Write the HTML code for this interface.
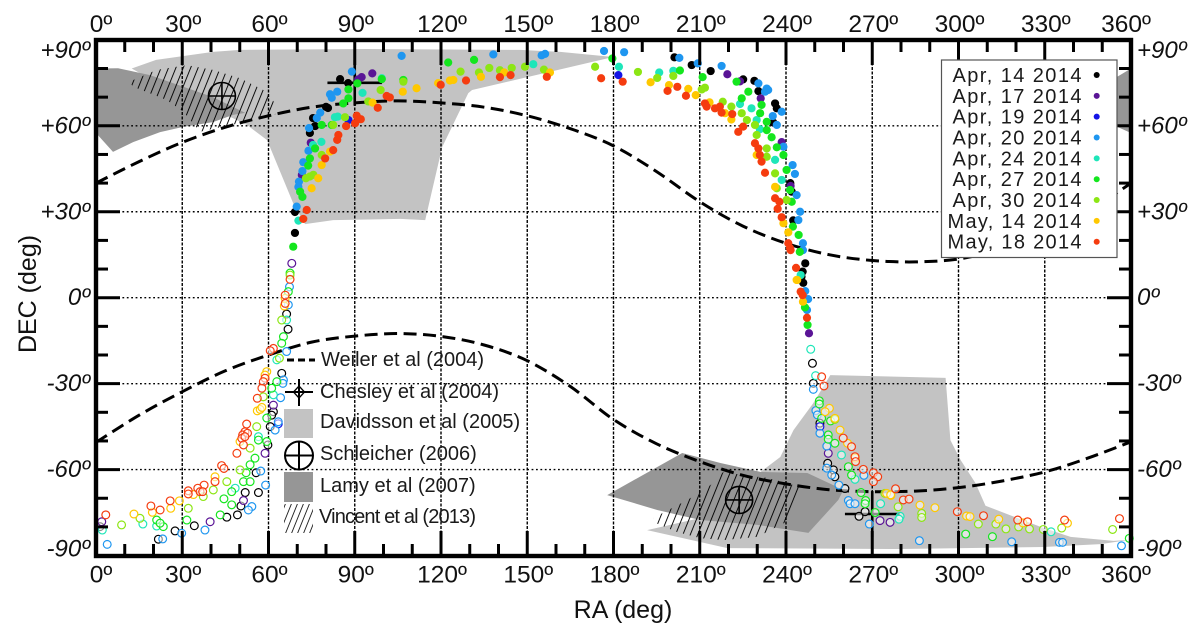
<!DOCTYPE html>
<html lang="en">
<head>
<meta charset="utf-8">
<title>Comet pole solutions RA/DEC chart</title>
<style>
html,body{margin:0;padding:0;background:#fff;}
svg{display:block;font-family:"Liberation Sans",sans-serif;}
</style>
</head>
<body>
<svg id="chart" xmlns="http://www.w3.org/2000/svg" width="1200" height="633" viewBox="0 0 1200 633">
<defs>
<pattern id="hatch" patternUnits="userSpaceOnUse" width="7.4" height="10" patternTransform="skewX(-22)">
<line x1="3.5" y1="0" x2="3.5" y2="10" stroke="#000" stroke-width="1"/>
</pattern>
<pattern id="hatch-legend" patternUnits="userSpaceOnUse" width="6" height="10" patternTransform="skewX(-22)">
<line x1="3" y1="0" x2="3" y2="10" stroke="#222" stroke-width="1"/>
</pattern>
</defs>
<g id="regions"></g>
<g id="grid"></g>
<g id="curves"></g>
<g id="crosses"></g>
<g id="legend-left">
<line x1="287" y1="360" x2="315" y2="360" stroke="#000" stroke-width="3" stroke-dasharray="7 4"/>
<text x="321" y="366" font-size="20" fill="#1a1a1a">Weiler et al (2004)</text>
<line x1="285" y1="392" x2="313" y2="392" stroke="#000" stroke-width="2"/>
<line x1="299" y1="379" x2="299" y2="406" stroke="#000" stroke-width="2"/>
<path d="M299 386 L304.5 392 L299 398 L293.5 392 Z" fill="none" stroke="#000" stroke-width="1.3"/>
<text x="320" y="398" font-size="20" fill="#1a1a1a">Chesley et al (2004)</text>
<rect x="284" y="409" width="29" height="29" fill="#c3c3c3"/>
<text x="320" y="428" font-size="20" fill="#1a1a1a">Davidsson et al (2005)</text>
<circle cx="299" cy="455.5" r="14" fill="none" stroke="#000" stroke-width="2"/>
<line x1="285" y1="455.5" x2="313" y2="455.5" stroke="#000" stroke-width="2"/>
<line x1="299" y1="441.5" x2="299" y2="469.5" stroke="#000" stroke-width="2"/>
<text x="320" y="460" font-size="20" fill="#1a1a1a">Schleicher (2006)</text>
<rect x="284" y="472" width="29" height="30" fill="#969696"/>
<text x="320" y="492" font-size="20" fill="#1a1a1a">Lamy et al (2007)</text>
<rect x="284" y="504" width="29" height="29" fill="url(#hatch-legend)"/>
<text x="319" y="523" font-size="20" fill="#1a1a1a" textLength="157" lengthAdjust="spacing">Vincent et al (2013)</text>
</g>
<g id="points"></g>
<g id="axes"></g>
<g id="date-legend"></g>
<text x="623" y="618" font-size="25" text-anchor="middle" fill="#111">RA (deg)</text>
<text transform="translate(36,294) rotate(-90)" font-size="25" text-anchor="middle" fill="#111">DEC (deg)</text>
</svg>
<script>
const raTicks = [0,30,60,90,120,150,180,210,240,270,300,330,360];
const decTicks = [90,60,30,0,-30,-60,-90];
const raLabels = ["0º","30º","60º","90º","120º","150º","180º","210º","240º","270º","300º","330º","360º"];
const decLabels = ["+90º","+60º","+30º","0º","-30º","-60º","-90º"];

const seriesNames = ["Apr, 14 2014","Apr, 17 2014","Apr, 19 2014","Apr, 20 2014","Apr, 24 2014","Apr, 27 2014","Apr, 30 2014","May, 14 2014","May, 18 2014"];
const seriesColors = ["#000000","#5a1496","#1414e6","#1e96f0","#1ee6b9","#14e61e","#8ce614","#ffc800","#f53c0f"];

const apr14 = [[84.9,76.3],[87.7,74.9],[80,66.6],[80.7,66.2],[75.5,62.7],[76.2,59.9],[74.4,57.5],[69.2,29.9],[69.2,22.6],
[201.2,83.9],[207.2,81.2],[213.8,79.1],[225.1,76.2],[229,75.7],[230.4,72.1],[236.2,67.8],[236.8,66.1],[235.6,61.1],[241.5,40],[242,37],[242.5,27],[245.8,9.1],[245.4,7.3],[246,5.2],[246.7,12],
[249.2,-22.9],[249.5,-29.9],[251.8,-43.8],[254.5,-57.8],[256.5,-60.1],[257,-62.5],[260.5,-66.6],[267.5,-74.7],[265.4,-76.3],
[66.3,-5.7],[66.8,-11],[64.6,-26.4],[61.7,-39.8],[60.6,-45],[61.1,-41],[59.8,-51.4],[55.7,-61.1],[56.5,-68],[51.9,-68],[50.4,-72.7],[49.2,-75.8],[45.5,-76.6],[34.2,-79.6],[27.5,-81.4],[21.7,-84.3],[1.4,-79.9]];
const apr17 = [[96.1,78.3],[92.4,77],[91.2,76.2],[74.7,54.1],[71.6,42.8],
[219.6,78],[224,75.5],[231.2,69.6],[238.5,54.3],[241.6,39],[248,-12.4],[68.1,12],
[254.7,-54.3],[272.7,-77.8],[276.2,-78.4],[61.7,-37.5],[58.8,-54.3],[51.3,-70.8],[39.7,-78.2],[2,-78.2]];
const apr19 = [[87.8,62],[181.7,77.7],[63.4,-44],[251.8,-45]];
const apr20 = [[89,78.9],[81.4,71],[82,69.8],[83.9,71.9],[78,64.6],[76.8,62.7],[74.1,59.2],[73.9,51.3],[72.1,47.3],[71.8,44.2],[70.6,40.5],[70.4,38.7],[69.8,31.8],
[106.3,84.4],[138.2,84.9],[155,84.6],[156.2,85.1],[176.7,86.1],[183.7,85.7],[202.9,83.7],[209.3,81.8],[217.6,80.9],
[230.4,74.8],[233.3,73],[233.8,72.5],[232.7,71.9],[238.5,64.9],[235.4,63.4],[236.8,60.3],[239.1,52.7],[242.3,46.3],[243.1,43.2],[243.7,35.8],[244.9,30],[244.3,27.1],[245.9,19],[245.9,16.6],[246.7,2.3],[247.7,-0.5],[247.3,-4.3],
[249.5,-32],[250.4,-39.4],[250.9,-40.9],[251.8,-47.3],[254.2,-51.8],[254.2,-59.5],[255.9,-61.9],[258.4,-65.4],[261.7,-70.8],[262.3,-71.9],[264,-71.9],[269,-79],[267.1,-62],
[286.4,-84.8],[318.5,-85.2],[335.1,-85.4],[336.2,-85.4],[356.7,-86.6],
[66.9,-2.5],[66.3,-18.8],[65.2,-28.7],[65,-29.9],[64.2,-34.9],[63.4,-43.3],[62.3,-46.2],[59,-65.4],[57.3,-60.5],[54.2,-72.9],[53,-74.1],[37.9,-81.1],[29.8,-82.2],[3.9,-86.1],[23.2,-84.2],[67.3,3.8]];
const apr24 = [[92.7,71.5],[84.1,63.2],[83.1,63],[78.4,54.4],[75.5,53.3],[70.4,26.9],[99.4,76.6],
[152.1,81.5],[181.9,80.6],[195.9,78.6],[200.8,79.2],[224,67.6],[228,66.1],[229.8,62],[230.9,58.8],[236.2,48.1],[238.5,41.1],[245.1,7.9],
[248.6,-18],[250.3,-27.2],[259.3,-54.9],[264,-63.4],[272.9,-71.9],[279.7,-76.3],[279.3,-77.3],[332.2,-81.7],
[66.3,-7.8],[62.9,-21.7],[61.7,-33.9],[56.5,-48.5],[48.4,-66.5],[16.3,-79],[21.1,-79.7],[2.2,-81.1]];
const apr27 = [[90.9,74.8],[87.8,72.7],[87.8,69.6],[86,67.8],[78.5,60.3],[82,60.3],[76.2,52.1],[74.4,48.6],[73.8,46.1],[71,37],[71.8,35.2],[99.4,76.3],[68.6,17.8],
[122.5,82.1],[131.5,83],[179.6,83.5],[203.1,79.3],[211,77],[222.8,75.4],[226.9,71.9],[224.6,69.6],[231.5,67.3],[231,64.4],[233.3,61.4],[233.3,58.5],[235,56],[236.8,52.5],[239.1,49.8],[240.2,44.6],[241.4,37.6],[242,33.5],[242.4,24.8],[106.9,76],[244.8,16],[244.4,21.9],[247.5,-9.5],[246.6,-3.4],
[251.6,-36],[251.6,-37.1],[252.4,-42.1],[255.5,-43],[254.7,-47.9],[254.7,-49.4],[257,-50.8],[261.7,-59],[262.8,-61.9],[266.1,-68],[267.7,-70.8],[267.5,-71.9],[271,-75],
[302.5,-82.5],[311.8,-83.4],[359.4,-84],
[67.5,8.6],[66.9,2.1],[65.2,-13.6],[64.6,-15.9],[62.9,-29.3],[61.1,-31.6],[59.4,-42],[56.5,-49.7],[59.4,-50.2],[55.3,-56],[53.6,-58.3],[52.2,-61.1],[51.3,-64.2],[53.6,-64.2],[47.2,-67.7],[44.5,-70.2],[47.2,-72.3],[43.2,-75.8],[31.6,-77.6],[23.4,-79.9],[21.1,-77.6],[22.3,-78.7]];
const apr30 = [[99,72.5],[94.7,68.5],[86.6,63],[75.6,42.9],[73,41.7],[74.4,42.3],[78.5,49.8],[82.5,60.3],
[106.9,75.4],[126.8,78.9],[133.2,78.6],[136.8,80.2],[140.5,79.4],[144.6,80.2],[149.2,80.6],[155.8,79.6],[173.6,80.6],[188.5,78.8],[195.2,76.7],[200.8,77.4],[210.7,72.7],[211.8,73.3],[218,68.4],[221,66.7],[224.6,64.4],[226.4,62],[229.2,60.3],[229.8,56.8],[233.3,52.1],[233.3,49.2],[236.2,43.4],[236.8,38.2],[240.2,34.1],
[257,-42.5],[274.4,-68.3],[279,-73],[287.2,-75.3],[287.2,-76.7],[306.9,-79],[313,-79],[316.5,-80.7],[320.9,-80],[324.7,-80.7],[329.5,-80.9],[335.9,-80.4],[353.6,-80.9],
[67.5,7.9],[64.6,-7.8],[63.8,-21.1],[58.2,-34.6],[55.9,-45],[53.6,-52.5],[50.1,-60.1],[45.5,-64.2],[40.8,-67.1],[37.3,-69.4],[32.1,-73.5],[15.3,-77],[8.9,-79.3]];
const may14 = [[96.2,68.1],[81.4,51],[78.5,46.3],[77.3,41.7],[75,38.2],
[106.7,71.9],[111.5,73.1],[123.1,75.8],[124.3,76],[119,74.9],[133.9,77.1],[142,78.6],[157.9,78.6],[192.9,75.2],[199.3,74.2],[206,72.9],[208.6,70.7],[213.4,68.2],[218.8,64.4],[221,62.2],[229.8,49.8],[236.2,38.7],[239.1,26],[240.8,22.8],[243.7,6.2],[243.9,6.2],[245.9,-1.4],
[255.1,-38.6],[253.6,-39.8],[257,-42.1],[258.8,-46.2],[261.4,-50.8],[264.1,-56],[276.5,-69],[275,-68.3],[276.4,-68.8],[286.6,-72.4],[291.8,-73.3],[302.8,-76.2],[304,-76.4],[314,-77.3],[322.4,-78.6],[337.9,-78.7],
[65.8,-0.2],[65.5,-2.9],[59.4,-25.8],[58.8,-27],[56.1,-39.5],[57.1,-39],[57.7,-38.3],[50.1,-50.2],[41.4,-62.5],[33.9,-68.7],[29,-70.9],[26,-73.5],[19.6,-74.9],[13.2,-75.5]];
const may18 = [[90.7,63.5],[92.1,62.3],[90.1,60.9],[87,59.9],[84.3,56.8],[83.9,55.1],[82.5,51.5],[79.7,48.6],[73.3,30.6],[72.1,27.5],[101.1,70.4],[102.2,69.9],[98,66.3],
[119.9,74.3],[128.7,75.8],[140.5,77],[144.2,77.7],[156.8,77.1],[175.7,76.6],[183.2,75.4],[198.8,72.2],[202.2,73.6],[205.2,70.5],[211.8,67.8],[212.4,66.7],[215.3,66.1],[217,66.7],[217.6,64.6],[221.3,64.1],[225.1,59.7],[223.4,57.9],[229.2,53.9],[230.4,52.1],[230.9,49.8],[231.5,47.5],[232.7,43.6],[236.2,34.7],[237.7,33.5],[237.1,31],[238.5,28.1],[240.8,19],[241.6,16.6],[243.5,10.4],[241.4,17.3],[245.1,2.1],[245.8,0.9],[247.3,-7],
[252.4,-27.6],[253.2,-30.8],[259.9,-49],[262.8,-52],[264,-55.5],[264.2,-57.2],[266.9,-59.9],[270.4,-61.1],[271.9,-62.5],[270.4,-64.2],[278.1,-66.7],[280.8,-70.6],[282.8,-70.3],[299.6,-74.7],[308.7,-76.1],[320.6,-77.6],[324,-78.2],[336.9,-77.6],[356,-77.1],
[67.5,6.4],[65.8,0.9],[65.8,-2],[61.7,-17.7],[60.6,-18.5],[58.8,-28.1],[58.2,-29.3],[57.7,-31.6],[56.1,-35.1],[52.4,-44.1],[51.8,-46.8],[51,-47.9],[52.7,-47.3],[50.7,-49.1],[51.8,-48.5],[51.3,-51.4],[49,-54.3],[43.7,-58.6],[44.5,-59.6],[41.4,-64.2],[37.6,-65.4],[35.4,-66.5],[36.2,-67.7],[37.1,-67.7],[32.1,-67.4],[32.1,-68.5],[25.8,-70.9],[22.3,-74.1],[19.1,-72.7],[3.4,-75.8]];
const seriesValues = [apr14,apr17,apr19,apr20,apr24,apr27,apr30,may14,may18];

const weilerNorth = [[0,40],[15,47.5],[30,54.2],[45,59.5],[60,63.5],[75,66.5],[90,68],[105,68.7],[120,68],[135,66.5],[150,63.5],[165,59],[180,53],[195,44],[210,33.5],[225,25],[240,19],[255,15],[270,13],[285,12.5],[300,13.5],[315,17],[330,22],[345,30],[360,40]];
const weilerSouth = [[0,-50.5],[15,-41],[30,-32.8],[45,-25.5],[60,-20],[75,-15.5],[90,-13.4],[105,-12.5],[120,-13.5],[135,-16.5],[150,-22],[165,-31],[180,-42.5],[195,-51],[210,-57.2],[225,-62],[240,-65],[255,-67],[270,-67.7],[285,-67.5],[300,-66.3],[315,-64],[330,-60.8],[345,-56],[360,-50.3]];

const davidssonNorth = [[12.4,80],[20.9,83],[40.7,85.8],[50.1,86.5],[94.3,86.8],[147.6,86.5],[161.5,85.8],[179.9,84],[130.8,72.5],[129.5,71.4],[120.4,52.6],[114.5,27.1],[105.8,27.5],[82.5,27.1],[72.7,25.7],[68.6,33],[59.5,55],[52.5,60.3],[47,63],[30,70]];
const davidssonSouth = [[255.4,-27],[295.5,-28],[297.2,-49.7],[300.7,-56.6],[305.9,-64.7],[309.4,-72.6],[320.5,-76.9],[329.6,-80.4],[339,-83.5],[353.9,-84.9],[359.8,-84.5],[349.4,-86],[329.6,-87],[279.8,-87.7],[219.6,-87.4],[191.7,-81.1],[210.2,-76.9],[232.1,-60.1],[238,-55.6],[242.6,-46.2],[249.5,-36.8]];
const lamyNorth = [[0,80],[7.7,80.1],[18.8,77.7],[40.7,70],[51.9,64.5],[47.7,63.8],[40.7,61.3],[30.3,59.6],[22.3,57.8],[12.9,54.3],[5.9,50.9],[0,57.5]];
const lamyNorthWrap = [[350,74],[360,80],[360,57.5],[350,62]];
const lamySouth = [[177.8,-68.9],[203.9,-54.2],[217.2,-57.7],[231.1,-60.8],[247.4,-61.2],[260,-67.1],[258.2,-70.6],[247.8,-82.1],[230,-79.3],[210.2,-77.6],[195.2,-74.1]];
const vincentNorth = [[11.6,75.4],[21.1,79.5],[31.6,81.2],[40.7,79.5],[50.1,76.6],[59.4,71.9],[62.6,67.3],[62.3,63.8],[52.2,61.4],[41.8,59.2],[36.2,57.9],[30.4,64.9],[24.6,69],[18.8,71.3],[12.9,73.6]];
const vincentSouth = [[193.8,-76.9],[205.7,-70.6],[213.7,-65.4],[218.2,-60.8],[225.2,-61.9],[233.5,-62.9],[240.5,-64.7],[245.7,-66.4],[241.5,-77.6],[238,-79.3],[230,-83.5],[218.2,-84.6],[210.2,-83.9],[202.2,-81.8],[193.8,-78.3]];

const chesleyPoles = [[90,75],[270,-75.5]];
const chesleyRaErr = [9.5,9.5];
const chesleyDecErr = [8,8];
const schleicherPoles = [[43.8,70.4],[223.7,-70.6]];

const NS = "http://www.w3.org/2000/svg";
function xAt(ra){ return 96 + ra * 2.875; }
function yAt(dec){ return 297.7 - dec * 2.865; }
function make(tag, attrs, parent){
  const el = document.createElementNS(NS, tag);
  for (const k in attrs) el.setAttribute(k, attrs[k]);
  parent.appendChild(el);
  return el;
}
function pointsAttr(list){ return list.map(p => xAt(p[0]).toFixed(1) + "," + yAt(p[1]).toFixed(1)).join(" "); }

/* regions */
const regions = document.getElementById("regions");
const regionDefs = [
  ["davidsson-north-region", davidssonNorth, "#c3c3c3"],
  ["davidsson-south-region", davidssonSouth, "#c3c3c3"],
  ["lamy-north-region", lamyNorth, "#969696"],
  ["lamy-north-wrap-region", lamyNorthWrap, "#969696"],
  ["lamy-south-region", lamySouth, "#969696"],
  ["vincent-north-hatch", vincentNorth, "url(#hatch)"],
  ["vincent-south-hatch", vincentSouth, "url(#hatch)"]
];
regionDefs.forEach(function(d){
  const el = make("polygon", {points: pointsAttr(d[1]), fill: d[2]}, regions);
  
  
});

/* grid */
const grid = document.getElementById("grid");
raTicks.slice(1, -1).forEach(function(t){
  const el = make("line", {x1: xAt(t), x2: xAt(t), y1: 40, y2: 556, stroke: "#000", "stroke-width": 1.4, "stroke-dasharray": "3 1.5"}, grid);
  
  
});
decTicks.slice(1, -1).forEach(function(t){
  const el = make("line", {x1: 96, x2: 1131, y1: yAt(t), y2: yAt(t), stroke: "#000", "stroke-width": 1.4, "stroke-dasharray": "1.8 2.6"}, grid);
  
  
});

/* dashed curves */
function smoothPath(list){
  const p = list.map(q => [xAt(q[0]), yAt(q[1])]);
  let d = "M" + p[0][0].toFixed(1) + " " + p[0][1].toFixed(1);
  for (let i = 0; i < p.length - 1; i++){
    const a = p[Math.max(i - 1, 0)], b = p[i], c = p[i + 1], e = p[Math.min(i + 2, p.length - 1)];
    d += " C" + (b[0] + (c[0] - a[0]) / 6).toFixed(1) + " " + (b[1] + (c[1] - a[1]) / 6).toFixed(1) +
         " " + (c[0] - (e[0] - b[0]) / 6).toFixed(1) + " " + (c[1] - (e[1] - b[1]) / 6).toFixed(1) +
         " " + c[0].toFixed(1) + " " + c[1].toFixed(1);
  }
  return d;
}
const curves = document.getElementById("curves");
[["weiler-north-curve", weilerNorth], ["weiler-south-curve", weilerSouth]].forEach(function(c){
  const el = make("path", {d: smoothPath(c[1]), fill: "none", stroke: "#000", "stroke-width": 3, "stroke-dasharray": "13 6.5"}, curves);
  
  
});

/* Chesley and Schleicher markers */
const crosses = document.getElementById("crosses");
chesleyPoles.forEach(function(p, i){
  const h = make("line", {x1: xAt(p[0] - chesleyRaErr[i]), x2: xAt(p[0] + chesleyRaErr[i]), y1: yAt(p[1]), y2: yAt(p[1]), stroke: "#000", "stroke-width": 2.6}, crosses);
  
  
  const v = make("line", {x1: xAt(p[0]), x2: xAt(p[0]), y1: yAt(p[1] + chesleyDecErr[i]), y2: yAt(p[1] - chesleyDecErr[i]), stroke: "#000", "stroke-width": 2.6}, crosses);
  
  
});
schleicherPoles.forEach(function(p){
  const cx = xAt(p[0]), cy = yAt(p[1]);
  const c = make("circle", {cx: cx, cy: cy, r: 13.5, fill: "none", stroke: "#000", "stroke-width": 1.6}, crosses);
  
  
  const h = make("line", {x1: cx - 13.5, x2: cx + 13.5, y1: cy, y2: cy, stroke: "#000", "stroke-width": 1.6}, crosses);
  
  
  const v = make("line", {x1: cx, x2: cx, y1: cy - 13.5, y2: cy + 13.5, stroke: "#000", "stroke-width": 1.6}, crosses);
  
  
});

/* scatter: open markers below the visibility limit, filled above */
const openBelowWest = 14;
const openBelowEast = -15;
const pts = document.getElementById("points");
seriesValues.forEach(function(list, s){
  list.forEach(function(p){
    const limit = p[0] < 180 ? openBelowWest : openBelowEast;
    const isOpen = p[1] < limit;
    const attrs = isOpen
      ? {cx: xAt(p[0]), cy: yAt(p[1]), r: 3.9, fill: "rgba(255,255,255,.55)", stroke: seriesColors[s], "stroke-width": 1.2}
      : {cx: xAt(p[0]), cy: yAt(p[1]), r: 4.1, fill: seriesColors[s]};
    const el = make("circle", attrs, pts);
    
    
  });
});

/* axes */
const axes = document.getElementById("axes");
const frame = make("rect", {x: 96, y: 40, width: 1035, height: 516, fill: "none", stroke: "#000", "stroke-width": 4.4}, axes);


for (let ra = 10; ra < 360; ra += 10){
  const major = raTicks.indexOf(ra) >= 0;
  const len = major ? 25 : 12;
  const t = make("line", {x1: xAt(ra), x2: xAt(ra), y1: 40, y2: 40 + len, stroke: "#000", "stroke-width": 3}, axes);
  
  
  const b = make("line", {x1: xAt(ra), x2: xAt(ra), y1: 556, y2: 556 - len, stroke: "#000", "stroke-width": 3}, axes);
  
  
}
for (let dec = -80; dec < 90; dec += 10){
  const major = decTicks.indexOf(dec) >= 0;
  const len = major ? 24 : 12;
  const l = make("line", {x1: 96, x2: 96 + len, y1: yAt(dec), y2: yAt(dec), stroke: "#000", "stroke-width": 3}, axes);
  
  
  const r = make("line", {x1: 1131, x2: 1131 - len, y1: yAt(dec), y2: yAt(dec), stroke: "#000", "stroke-width": 3}, axes);
  
  
}
raTicks.forEach(function(t, i){
  let off = 1;
  if (t === 0) off = 5;
  if (t === 360) off = -5;
  const a = make("text", {x: xAt(t) + off, y: 32, "font-size": 24.5, "text-anchor": "middle", fill: "#111"}, axes);
  a.textContent = raLabels[i];
  
  
  const b = make("text", {x: xAt(t) + off, y: 582.5, "font-size": 24.5, "text-anchor": "middle", fill: "#111"}, axes);
  b.textContent = raLabels[i];
  
  
});
decTicks.forEach(function(t, i){
  let by = yAt(t) + 7.5;
  if (t === 90) by = 58;
  if (t === -90) by = 556.5;
  const a = make("text", {x: 90, y: by, "font-size": 24, "font-style": "italic", "text-anchor": "end", fill: "#111"}, axes);
  a.textContent = decLabels[i];
  
  
  const b = make("text", {x: 1137, y: by, "font-size": 24, "font-style": "italic", fill: "#111"}, axes);
  b.textContent = decLabels[i];
  
  
});

/* date legend */
const dl = document.getElementById("date-legend");
const box = make("rect", {x: 941.5, y: 60, width: 175.5, height: 197.5, fill: "#fff", stroke: "#555", "stroke-width": 1.2}, dl);


seriesNames.forEach(function(name, i){
  const rowY = 75 + i * 20.84;
  const isMay = name.indexOf("May") === 0;
  const tx = make("text", {x: 1081.5, y: rowY + 7, "font-size": 20, "text-anchor": "end", fill: "#1a1a1a", textLength: isMay ? 134 : 129, lengthAdjust: "spacing"}, dl);
  tx.textContent = name;
  
  
  const mk = make("circle", {cx: 1096.7, cy: rowY, r: 3, fill: seriesColors[i]}, dl);
  
  
});
</script>
</body>
</html>
